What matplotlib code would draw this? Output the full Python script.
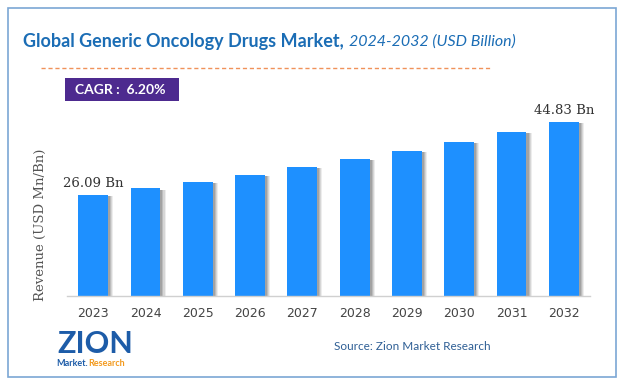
import matplotlib
matplotlib.use("Agg")
import matplotlib.pyplot as plt
from matplotlib.patches import Rectangle
from matplotlib.lines import Line2D

years = ["2023", "2024", "2025", "2026", "2027", "2028", "2029", "2030", "2031", "2032"]
revenue = [26.09, 27.71, 29.43, 31.25, 33.19, 35.25, 37.43, 39.75, 42.22, 44.83]
first_label = "26.09 Bn"
last_label = "44.83 Bn"
cagr_text = "CAGR :  6.20%"

W, H = 619, 385
fig = plt.figure(figsize=(W / 100, H / 100), dpi=100)
fig.patch.set_facecolor("white")

def fx(px):
    return px / W

def fy(py):
    return 1 - py / H

# outer frame
fig.add_artist(Rectangle((fx(8), fy(377)), fx(608), 369 / H, transform=fig.transFigure,
                         fill=False, edgecolor="#7ba7d4", linewidth=1.2))

# title
t1 = fig.text(fx(23), fy(41), "Global Generic Oncology Drugs Market,", fontsize=13,
              fontweight="bold", color="#1b6db5", family="Lato", va="center", ha="left")
fig.canvas.draw()
bb = t1.get_window_extent()
fig.text(bb.x1 / W + fx(5), fy(42), "2024-2032 (USD Billion)", fontsize=11.5, style="italic",
         color="#1b6db5", family="Lato", va="center", ha="left")

# dashed orange line
fig.add_artist(Line2D([fx(41), fx(492)], [fy(68), fy(68)], transform=fig.transFigure,
                      color="#f0925a", linewidth=1.0, linestyle=(0, (3, 2))))

# CAGR box
fig.add_artist(Rectangle((fx(65), fy(101)), fx(114), 23 / H, transform=fig.transFigure,
                         facecolor="#4d2a8f", edgecolor="none"))
fig.text(fx(75), fy(90), cagr_text, fontsize=10, fontweight="bold", color="white",
         family="Lato", va="center", ha="left")

# axes
ax_left, ax_right = 67, 590
ax_top, ax_bottom = 100, 296
ax = fig.add_axes([fx(ax_left), fy(ax_bottom), (ax_right - ax_left) / W, (ax_bottom - ax_top) / H])
ax.set_facecolor("white")
ymax = (ax_bottom - ax_top) * 44.83 / (296 - 122)
ax.set_ylim(0, ymax)
ax.set_xlim(-0.5, len(years) - 0.5)

x = list(range(len(years)))
bw = 0.57
# shadow
for dx, a in [(0.10, 0.10), (0.08, 0.15), (0.06, 0.2), (0.04, 0.25)]:
    ax.bar([i + dx for i in x], [v - 0.3 for v in revenue], width=bw, color="#555555", alpha=a,
           linewidth=0, zorder=1)
ax.bar(x, revenue, width=bw, color="#1e90ff", linewidth=0, zorder=2)

for s in ["top", "right", "left"]:
    ax.spines[s].set_visible(False)
ax.spines["bottom"].set_color("#d0d0d0")
ax.spines["bottom"].set_linewidth(1.0)
ax.set_yticks([])
ax.set_xticks(x)
ax.set_xticklabels(years, fontsize=9, color="#444444", family="DejaVu Sans")
ax.tick_params(axis="x", length=0, pad=8)

ax.text(0, revenue[0] + 1.3, first_label, ha="center", va="bottom", fontsize=9.5,
        family="DejaVu Serif", color="#333333")
ax.text(len(years) - 1, revenue[-1] + 1.3, last_label, ha="center", va="bottom", fontsize=9.5,
        family="DejaVu Serif", color="#333333")

fig.text(fx(40), fy(225), "Revenue (USD Mn/Bn)", rotation=90, fontsize=9.5,
         family="DejaVu Serif", color="#555555", ha="center", va="center")

# source
fig.text(fx(491), fy(347), "Source: Zion Market Research", fontsize=8.5, color="#2f5f95",
         family="Lato", ha="right", va="center")

# logo approximation
fig.text(fx(57), fy(344), "ZION", fontsize=22, fontweight="bold", color="#1d5ca8",
         family="Lato", ha="left", va="center")
m1 = fig.text(fx(56), fy(364), "Market.", fontsize=6.5, fontweight="bold", color="#1d5ca8",
              family="Lato", ha="left", va="center")
fig.canvas.draw()
mb = m1.get_window_extent()
fig.text(mb.x1 / W + fx(1), fy(364), "Research", fontsize=6.5, fontweight="bold", color="#f39a1e",
         family="Lato", ha="left", va="center")

fig.savefig("out.png", dpi=100, facecolor="white")
